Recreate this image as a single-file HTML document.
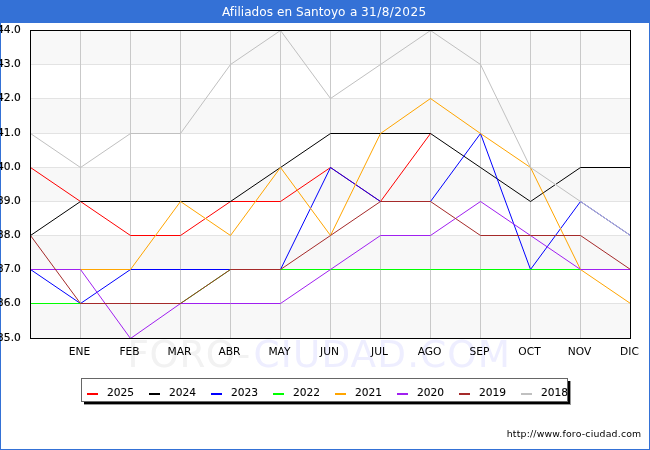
<!DOCTYPE html>
<html lang="es">
<head>
<meta charset="utf-8">
<title>Afiliados en Santoyo a 31/8/2025</title>
<style>
html,body{margin:0;padding:0;background:#fff;}
body{width:650px;height:450px;overflow:hidden;}
svg{display:block;}
text{font-family:"DejaVu Sans","Liberation Sans",sans-serif;}
.k{stroke:#000;stroke-width:0.15px;}
.k2{stroke:#000;stroke-width:0.07px;}
</style>
</head>
<body>
<svg width="650" height="450" viewBox="0 0 650 450">
<rect x="0" y="0" width="650" height="450" fill="#3471d6"/>
<rect x="1" y="23" width="648" height="426" fill="#ffffff"/>
<text y="16" font-size="12.1" fill="#ffffff"><tspan x="222">Afiliados </tspan><tspan x="277">en </tspan><tspan x="296">Santoyo </tspan><tspan x="350">a </tspan><tspan x="361" letter-spacing="0.4">31/8/2025</tspan></text>
<text x="127.6" y="367" font-size="37.3" fill="#f2f2f2" letter-spacing="0.5">FORO-<tspan x="253.6" fill="#eeeeff" letter-spacing="1.15">CIUDAD.COM</tspan></text>
<g shape-rendering="crispEdges">
<rect x="30" y="30" width="601" height="309" fill="#ffffff"/>
<rect x="30" y="30" width="601" height="34" fill="#f8f8f8"/>
<rect x="30" y="98" width="601" height="35" fill="#f8f8f8"/>
<rect x="30" y="167" width="601" height="34" fill="#f8f8f8"/>
<rect x="30" y="235" width="601" height="34" fill="#f8f8f8"/>
<rect x="30" y="303" width="601" height="35" fill="#f8f8f8"/>
<rect x="30" y="303" width="601" height="1" fill="#e3e3e3"/>
<rect x="30" y="269" width="601" height="1" fill="#e3e3e3"/>
<rect x="30" y="235" width="601" height="1" fill="#e3e3e3"/>
<rect x="30" y="201" width="601" height="1" fill="#e3e3e3"/>
<rect x="30" y="167" width="601" height="1" fill="#e3e3e3"/>
<rect x="30" y="133" width="601" height="1" fill="#e3e3e3"/>
<rect x="30" y="98" width="601" height="1" fill="#e3e3e3"/>
<rect x="30" y="64" width="601" height="1" fill="#e3e3e3"/>
<rect x="80" y="30" width="1" height="309" fill="#c9c9c9"/>
<rect x="130" y="30" width="1" height="309" fill="#c9c9c9"/>
<rect x="180" y="30" width="1" height="309" fill="#c9c9c9"/>
<rect x="230" y="30" width="1" height="309" fill="#c9c9c9"/>
<rect x="280" y="30" width="1" height="309" fill="#c9c9c9"/>
<rect x="330" y="30" width="1" height="309" fill="#c9c9c9"/>
<rect x="380" y="30" width="1" height="309" fill="#c9c9c9"/>
<rect x="430" y="30" width="1" height="309" fill="#c9c9c9"/>
<rect x="480" y="30" width="1" height="309" fill="#c9c9c9"/>
<rect x="530" y="30" width="1" height="309" fill="#c9c9c9"/>
<rect x="580" y="30" width="1" height="309" fill="#c9c9c9"/>
</g>
<g class="k" font-size="10.67" fill="#000" text-anchor="end">
<text x="20.8" y="341.1">35.0</text>
<text x="20.8" y="306.1">36.0</text>
<text x="20.8" y="272.1">37.0</text>
<text x="20.8" y="238.1">38.0</text>
<text x="20.8" y="204.1">39.0</text>
<text x="20.8" y="170.1">40.0</text>
<text x="20.8" y="136.1">41.0</text>
<text x="20.8" y="101.1">42.0</text>
<text x="20.8" y="67.1">43.0</text>
<text x="20.8" y="33.1">44.0</text>
</g>
<g font-size="10.67" fill="#000" text-anchor="middle">
<text x="79.5" y="355">ENE</text>
<text x="129.5" y="355">FEB</text>
<text x="179.5" y="355">MAR</text>
<text x="229.5" y="355">ABR</text>
<text x="279.5" y="355">MAY</text>
<text x="329.5" y="355">JUN</text>
<text x="379.5" y="355">JUL</text>
<text x="429.5" y="355">AGO</text>
<text x="479.5" y="355">SEP</text>
<text x="529.5" y="355">OCT</text>
<text x="579.5" y="355">NOV</text>
<text x="629.5" y="355">DIC</text>
</g>
<g fill="none" stroke-width="1.0" stroke-linejoin="round">
<polyline stroke="#ff0000" points="30.5,167.5 80.5,201.5 130.5,235.5 180.5,235.5 230.5,201.5 280.5,201.5 330.5,167.5 380.5,201.5 430.5,133.5"/>
<polyline stroke="#000000" points="30.5,235.5 80.5,201.5 130.5,201.5 180.5,201.5 230.5,201.5 280.5,167.5 330.5,133.5 380.5,133.5 430.5,133.5 480.5,167.5 530.5,201.5 580.5,167.5 630.5,167.5"/>
<polyline stroke="#0000ff" points="30.5,269.5 80.5,303.5 130.5,269.5 180.5,269.5 230.5,269.5 280.5,269.5 330.5,167.5 380.5,201.5 430.5,201.5 480.5,133.5 530.5,269.5 580.5,201.5 630.5,235.5"/>
<polyline stroke="#00ff00" points="30.5,303.5 80.5,303.5 130.5,303.5 180.5,303.5 230.5,269.5 280.5,269.5 330.5,269.5 380.5,269.5 430.5,269.5 480.5,269.5 530.5,269.5 580.5,269.5 630.5,269.5"/>
<polyline stroke="#ffa500" points="30.5,269.5 80.5,269.5 130.5,269.5 180.5,201.5 230.5,235.5 280.5,167.5 330.5,235.5 380.5,133.5 430.5,98.5 480.5,133.5 530.5,167.5 580.5,269.5 630.5,303.5"/>
<polyline stroke="#a020f0" points="30.5,269.5 80.5,269.5 130.5,338.5 180.5,303.5 230.5,303.5 280.5,303.5 330.5,269.5 380.5,235.5 430.5,235.5 480.5,201.5 530.5,235.5 580.5,269.5 630.5,269.5"/>
<polyline stroke="#a52a2a" points="30.5,235.5 80.5,303.5 130.5,303.5 180.5,303.5 230.5,269.5 280.5,269.5 330.5,235.5 380.5,201.5 430.5,201.5 480.5,235.5 530.5,235.5 580.5,235.5 630.5,269.5"/>
<polyline stroke="#c0c0c0" points="30.5,133.5 80.5,167.5 130.5,133.5 180.5,133.5 230.5,64.5 280.5,30.5 330.5,98.5 380.5,64.5 430.5,30.5 480.5,64.5 530.5,167.5 580.5,201.5 630.5,235.5"/>
</g>
<g shape-rendering="crispEdges">
<rect x="30" y="30" width="601" height="1" fill="#000"/>
<rect x="30" y="338" width="601" height="1" fill="#000"/>
<rect x="30" y="30" width="1" height="309" fill="#000"/>
<rect x="630" y="30" width="1" height="309" fill="#000"/>
</g>
<g shape-rendering="crispEdges">
<rect x="84" y="381" width="487" height="24" fill="#999"/>
<rect x="84" y="381" width="486" height="23" fill="#000"/>
<rect x="81" y="378" width="487" height="24" fill="#666"/>
<rect x="82" y="379" width="485" height="22" fill="#fff"/>
<rect x="87" y="393" width="11" height="2" fill="#ff0000"/>
<rect x="149" y="393" width="11" height="2" fill="#000000"/>
<rect x="211" y="393" width="11" height="2" fill="#0000ff"/>
<rect x="273" y="393" width="11" height="2" fill="#00ff00"/>
<rect x="335" y="393" width="11" height="2" fill="#ffa500"/>
<rect x="397" y="393" width="11" height="2" fill="#a020f0"/>
<rect x="459" y="393" width="11" height="2" fill="#a52a2a"/>
<rect x="521" y="393" width="11" height="2" fill="#c0c0c0"/>
</g>
<g class="k2" font-size="10.67" fill="#000">
<text x="107" y="395.6">2025</text>
<text x="169" y="395.6">2024</text>
<text x="231" y="395.6">2023</text>
<text x="293" y="395.6">2022</text>
<text x="355" y="395.6">2021</text>
<text x="417" y="395.6">2020</text>
<text x="479" y="395.6">2019</text>
<text x="541" y="395.6">2018</text>
</g>
<text x="506.7" y="436.5" font-size="9.33" fill="#000" letter-spacing="0.2">http://www.foro-ciudad.com</text>
</svg>
</body>
</html>
